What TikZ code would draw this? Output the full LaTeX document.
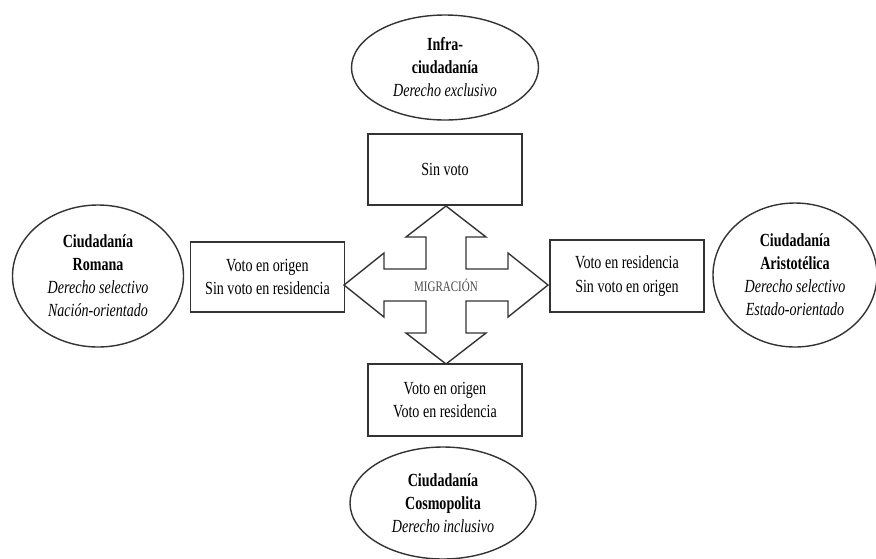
\documentclass[tikz,border=0pt]{standalone}
\usepackage{fontspec}
\setmainfont{Liberation Serif}[FakeStretch=0.76]
\usetikzlibrary{shapes.geometric}
\begin{document}
\begin{tikzpicture}[x=1pt,y=-1pt,
  ln/.style={draw=black!80, line width=1.4pt},
  boxn/.style={ln, rectangle, minimum width=154pt, minimum height=71pt, align=center, inner sep=0pt,
    font=\fontsize{18.5}{23.5}\selectfont},
  elln/.style={ln, ellipse, align=center, inner sep=0pt,
    font=\fontsize{18.5}{23}\selectfont},
  migtext/.style={text=black!72, font=\fontsize{14.5}{16}\selectfont, inner sep=0pt}]
\useasboundingbox (0,0) rectangle (876,558);

% ellipses
\node[elln, minimum width=187pt, minimum height=105pt] (infra) at (445,67.5)
  {\textbf{Infra-}\\\textbf{ciudadanía}\\\textit{Derecho exclusivo}};
\node[elln, minimum width=171pt, minimum height=142pt] (romana) at (98,276)
  {\textbf{Ciudadanía}\\\textbf{Romana}\\\textit{Derecho selectivo}\\\textit{Nación-orientado}};
\node[elln, minimum width=164pt, minimum height=144pt] (aristo) at (795,275)
  {\textbf{Ciudadanía}\\\textbf{Aristotélica}\\\textit{Derecho selectivo}\\\textit{Estado-orientado}};
\node[elln, minimum width=186pt, minimum height=112pt] (cosmo) at (443,503)
  {\textbf{Ciudadanía}\\\textbf{Cosmopolita}\\\textit{Derecho inclusivo}};

% boxes
\node[boxn] (sinvoto) at (445,169.5) {Sin voto};
\node[boxn, minimum height=70pt] (origen) at (267.5,277) {Voto en origen\\Sin voto en residencia};
\node[boxn, minimum height=72pt] (resid) at (627,276) {Voto en residencia\\Sin voto en origen};
\node[boxn, minimum height=72pt] (ambos) at (445,400) {Voto en origen\\Voto en residencia};

% migration cross arrow
\coordinate (c) at (446,285);
\draw[ln, line join=miter, shift={(c)}]
  (0,-79) -- (40,-48) -- (20,-48) -- (20,-16) -- (62,-16) -- (62,-32) -- (102,0)
  -- (62,32) -- (62,16) -- (20,16) -- (20,48) -- (40,48) -- (0,79)
  -- (-40,48) -- (-20,48) -- (-20,16) -- (-62,16) -- (-62,32) -- (-102,0)
  -- (-62,-32) -- (-62,-16) -- (-20,-16) -- (-20,-48) -- (-40,-48) -- cycle;
\node[migtext] (mig) at (c) {MIGRACIÓN};
\end{tikzpicture}
\end{document}
